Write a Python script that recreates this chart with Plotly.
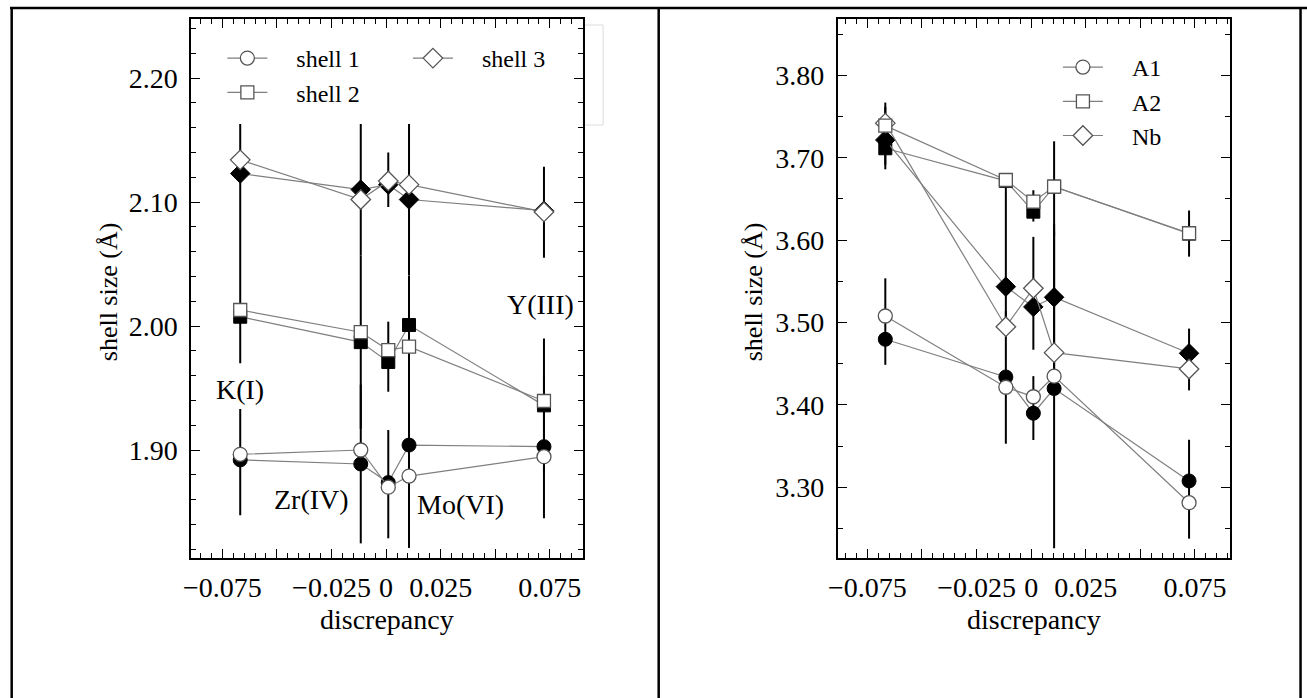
import plotly.graph_objects as go

# ---- data -------------------------------------------------------------
# discrepancy (x) positions, shared by both panels
discrepancy = [-0.0668, -0.0116, 0.0010, 0.0105, 0.0723]

# left panel: first three coordination shells (open = one model, filled = other)
shell1_open = [1.8965, 1.900, 1.870, 1.879, 1.8946]
shell1_fill = [1.892, 1.8887, 1.8737, 1.904, 1.9027]
shell1_err_plus = [0.041, 0.064, 0.0424, 0.083, 0.058]
shell1_err_minus = [0.0447, 0.064, 0.0449, 0.083, 0.0577]

shell2_open = [2.0129, 1.995, 1.9806, 1.9833, 1.9395]
shell2_fill = [2.0075, 1.987, 1.971, 2.0008, 1.936]
shell2_err_plus = [0.0755, 0.070, 0.0325, 0.040, 0.054]
shell2_err_minus = [0.0375, 0.070, 0.024, 0.045, 0.054]

shell3_open = [2.134, 2.102, 2.117, 2.114, 2.092]
shell3_fill = [2.123, 2.110, 2.114, 2.102, 2.093]
shell3_err_plus = [0.040, 0.053, 0.026, 0.061, 0.0355]
shell3_err_minus = [0.040, 0.053, 0.018, 0.061, 0.038]

# right panel: A1, A2 and Nb shells
a1_open = [3.508, 3.4215, 3.410, 3.435, 3.2814]
a1_fill = [3.4797, 3.434, 3.390, 3.420, 3.3078]
a1_err_plus = [0.074, 0.080, 0.045, 0.200, 0.050]
a1_err_minus = [0.031, 0.081, 0.0325, 0.194, 0.070]

a2_open = [3.739, 3.673, 3.6467, 3.665, 3.6084]
a2_fill = [3.7115, 3.672, 3.6346, 3.665, 3.608]
a2_err_plus = [0.0555, 0.005, 0.026, 0.055, 0.028]
a2_err_minus = [0.0255, 0.005, 0.012, 0.060, 0.028]

nb_open = [3.742, 3.495, 3.5416, 3.4635, 3.4437]
nb_fill = [3.7216, 3.5436, 3.519, 3.5307, 3.4627]
nb_err_plus = [0.040, 0.125, 0.085, 0.080, 0.030]
nb_err_minus = [0.030, 0.050, 0.052, 0.100, 0.045]

# axis ticks
x_tickvals = [-0.075, -0.05, -0.025, 0.0, 0.025, 0.05, 0.075]
x_ticktext = ["\u22120.075", "", "\u22120.025", "0", "0.025", "", "0.075"]
left_y_ticks = [1.90, 2.00, 2.10, 2.20]
right_y_ticks = [3.30, 3.40, 3.50, 3.60, 3.70, 3.80]

# ion labels in the left panel
ion_labels = ["K(I)", "Zr(IV)", "Mo(VI)", "Y(III)"]
ion_label_x = [-0.0668, -0.034, 0.034, 0.0705]
ion_label_y = [1.949, 1.860, 1.856, 2.017]

# ---- styling ----------------------------------------------------------
FONT = "Liberation Serif"
FS = 28          # tick labels, titles, ion labels
LEG_FS = 24      # legend entries
PAD = "\u00a0" * 4  # gap between legend symbol and its label
LINE_GREY = "#7f7f7f"
EDGE_GREY = "#555555"

fig = go.Figure()


def filled_trace(y, plus, minus, symbol, size, xa, ya):
    return go.Scatter(
        x=discrepancy, y=y, mode="lines+markers", xaxis=xa, yaxis=ya,
        line=dict(color=LINE_GREY, width=1.2),
        marker=dict(symbol=symbol, size=size, color="black",
                    line=dict(color="black", width=1)),
        error_y=dict(type="data", symmetric=False, array=plus,
                     arrayminus=minus, color="black", thickness=2, width=0),
        showlegend=False, hoverinfo="skip",
    )


def open_trace(y, name, symbol, size, xa, ya, legend, rank):
    return go.Scatter(
        x=discrepancy, y=y, mode="lines+markers", name=PAD + name,
        xaxis=xa, yaxis=ya, legend=legend, legendrank=rank,
        line=dict(color=LINE_GREY, width=1.2),
        marker=dict(symbol=symbol, size=size, color="white",
                    line=dict(color=EDGE_GREY, width=1.3)),
        hoverinfo="skip",
    )


# left panel: filled series (with error bars) underneath the open ones
fig.add_trace(filled_trace(shell3_fill, shell3_err_plus, shell3_err_minus, "diamond", 15, "x", "y"))
fig.add_trace(filled_trace(shell2_fill, shell2_err_plus, shell2_err_minus, "square", 13, "x", "y"))
fig.add_trace(filled_trace(shell1_fill, shell1_err_plus, shell1_err_minus, "circle", 14, "x", "y"))
fig.add_trace(open_trace(shell3_open, "shell 3", "diamond", 15, "x", "y", "legend2", 3))
fig.add_trace(open_trace(shell2_open, "shell 2", "square", 13, "x", "y", "legend", 2))
fig.add_trace(open_trace(shell1_open, "shell 1", "circle", 14, "x", "y", "legend", 1))

# right panel
fig.add_trace(filled_trace(a1_fill, a1_err_plus, a1_err_minus, "circle", 14, "x2", "y2"))
fig.add_trace(filled_trace(a2_fill, a2_err_plus, a2_err_minus, "square", 13, "x2", "y2"))
fig.add_trace(filled_trace(nb_fill, nb_err_plus, nb_err_minus, "diamond", 15, "x2", "y2"))
fig.add_trace(open_trace(nb_open, "Nb", "diamond", 15, "x2", "y2", "legend3", 3))
fig.add_trace(open_trace(a1_open, "A1", "circle", 14, "x2", "y2", "legend3", 1))
fig.add_trace(open_trace(a2_open, "A2", "square", 13, "x2", "y2", "legend3", 2))

W, H = 1307, 698
ydom = [1 - 558 / H, 1 - 19 / H]
left_px = [182.7, 577.7]      # plot-area edges of the two panels, in px
right_px = [834.3, 1229.3]

axis_common = dict(
    showgrid=False, zeroline=False, showline=True, linecolor="black",
    linewidth=2, mirror="allticks", ticks="inside", ticklen=9,
    tickwidth=1.2, tickcolor="black",
    tickfont=dict(family=FONT, size=FS, color="black"),
)

xaxis_common = dict(
    axis_common, tickmode="array", tickvals=x_tickvals, ticktext=x_ticktext,
    ticklabelstandoff=3,
    minor=dict(tickmode="linear", tick0=0, dtick=0.005, ticks="inside",
               ticklen=5, tickwidth=1, tickcolor="black"),
)

legend_common = dict(xanchor="left", yanchor="top", bgcolor="rgba(0,0,0,0)",
                     itemwidth=40,
                     font=dict(family=FONT, size=LEG_FS, color="black"))

fig.update_layout(
    width=W, height=H,
    margin=dict(l=0, r=0, t=0, b=0),
    paper_bgcolor="white", plot_bgcolor="white",
    xaxis=dict(xaxis_common, domain=[left_px[0] / W, left_px[1] / W],
               range=[-0.0892, 0.0903], anchor="y"),
    yaxis=dict(axis_common, domain=ydom, range=[1.8129, 2.2476], anchor="x",
               tickmode="array", tickvals=left_y_ticks, tickformat=".2f",
               ticklabelstandoff=6,
               minor=dict(tickmode="linear", tick0=1.9, dtick=0.02,
                          ticks="inside", ticklen=5, tickwidth=1,
                          tickcolor="black")),
    xaxis2=dict(xaxis_common, domain=[right_px[0] / W, right_px[1] / W],
                range=[-0.0885, 0.0910], anchor="y2"),
    yaxis2=dict(axis_common, domain=ydom, range=[3.2143, 3.8684],
                anchor="x2", tickmode="array", tickvals=right_y_ticks,
                tickformat=".2f", ticklabelstandoff=6,
                minor=dict(tickmode="linear", tick0=3.25, dtick=0.05,
                           ticks="inside", ticklen=5, tickwidth=1,
                           tickcolor="black")),
    showlegend=True,
    legend=dict(legend_common, x=214 / W, y=1 - 36 / H),
    legend2=dict(legend_common, x=401 / W, y=1 - 36 / H),
    legend3=dict(legend_common, x=1056 / W, y=1 - 45 / H),
)

annotations = []
for txt, ax, ay in zip(ion_labels, ion_label_x, ion_label_y):
    annotations.append(dict(text=txt, x=ax, y=ay, xref="x", yref="y",
                            showarrow=False, xanchor="center", yanchor="middle",
                            font=dict(family=FONT, size=FS, color="black")))

# axis titles
for lo, hi in [left_px, right_px]:
    annotations.append(dict(text="discrepancy", x=(lo + hi) / 2 / W, y=1 - 619 / H,
                            xref="paper", yref="paper", showarrow=False,
                            xanchor="center", yanchor="middle",
                            font=dict(family=FONT, size=FS, color="black")))
for cx in [99, 749]:
    annotations.append(dict(text="shell size (Å)", x=cx / W, y=1 - 292 / H,
                            xref="paper", yref="paper", showarrow=False,
                            textangle=-90, xanchor="center", yanchor="middle",
                            font=dict(family=FONT, size=FS - 2, color="black")))
fig.update_layout(annotations=annotations)

# table frame around the two panels
frame = dict(color="black", width=2.5)
shapes = [
    dict(type="line", xref="paper", yref="paper", x0=0, x1=1, y0=1 - 8 / H, y1=1 - 8 / H, line=frame),
    dict(type="line", xref="paper", yref="paper", x0=1.7 / W, x1=1.7 / W, y0=0, y1=1 - 8 / H, line=frame),
    dict(type="line", xref="paper", yref="paper", x0=653.7 / W, x1=653.7 / W, y0=0, y1=1 - 8 / H, line=frame),
    dict(type="line", xref="paper", yref="paper", x0=1300.5 / W, x1=1300.5 / W, y0=0, y1=1 - 8 / H, line=frame),
    # faint edge of the legend box poking out beside the left frame
    dict(type="rect", xref="paper", yref="paper", layer="below",
         x0=left_px[1] / W, x1=(left_px[1] + 20) / W, y0=1 - 125 / H, y1=1 - 25 / H,
         line=dict(color="#dddddd", width=1)),
]
fig.update_layout(shapes=shapes)

fig.write_html("out.html")
